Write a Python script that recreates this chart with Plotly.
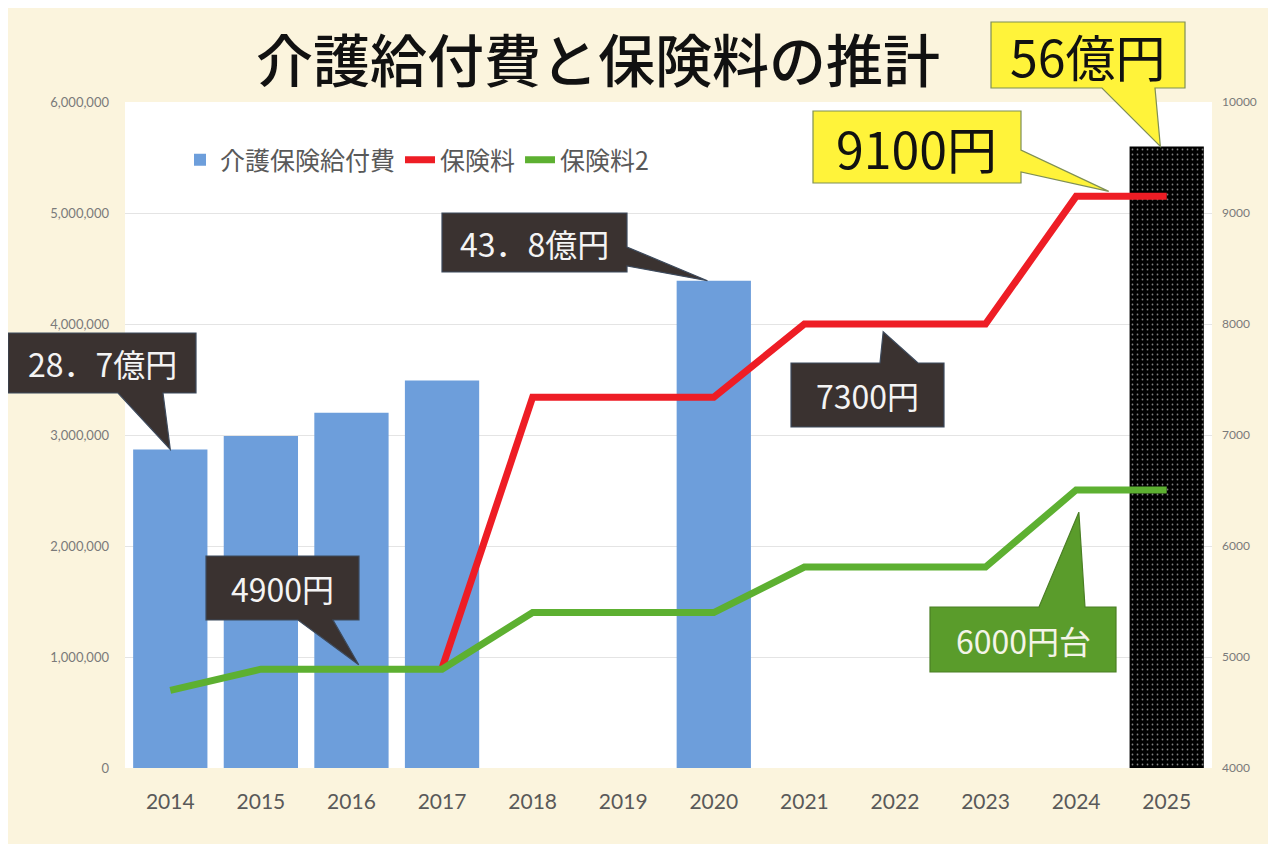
import plotly.graph_objects as go

# ---------------- data ----------------
years = [2014, 2015, 2016, 2017, 2018, 2019, 2020, 2021, 2022, 2023, 2024, 2025]
benefit_cost = [2870000, 2990000, 3200000, 3490000, None, None, 4390000, None, None, None, None, 5600000]
premium = [None, None, None, 4900, 7340, 7340, 7340, 8000, 8000, 8000, 9150, 9150]
premium2 = [4700, 4890, 4890, 4890, 5400, 5400, 5400, 5810, 5810, 5810, 6505, 6505]

title_text = "介護給付費と保険料の推計"
series_names = ["介護保険給付費", "保険料", "保険料2"]

# ---------------- styling ----------------
BG = "#FBF4DD"
BAR_BLUE = "#6D9EDB"
RED = "#EE1D25"
GREEN = "#5DB031"
DARK = "#3A3230"
YELLOW = "#FFF33A"
CJK = "Noto Sans CJK JP"

X_RANGE = [2013.5, 2025.5]
Y_RANGE = [0, 6000000]
Y2_RANGE = [4000, 10000]

OFF = 8  # page body margin
W, H = 1260, 836
ML, MT = 117, 94
PW, PH = 1087, 666
MR = W - ML - PW
MB = H - MT - PH


def px_x(px):
    return (px - OFF - ML) / PW


def px_y(py):
    return (MT + PH - (py - OFF)) / PH


def dx(year):
    return (year - X_RANGE[0]) / (X_RANGE[1] - X_RANGE[0])


def dy(v):
    return (v - Y_RANGE[0]) / (Y_RANGE[1] - Y_RANGE[0])


def dy2(v):
    return (v - Y2_RANGE[0]) / (Y2_RANGE[1] - Y2_RANGE[0])


bar_colors = ["black" if y == 2025 else BAR_BLUE for y in years]
bar_patterns = ["." if y == 2025 else "" for y in years]

fig = go.Figure()
fig.add_trace(go.Bar(
    x=years, y=benefit_cost, name=series_names[0],
    marker=dict(color=bar_colors, line=dict(width=0),
                pattern=dict(shape=bar_patterns, fgcolor="#8a8a8a", bgcolor="black",
                             size=5, solidity=0.1)),
    hoverinfo="skip",
))
fig.add_trace(go.Scatter(
    x=years, y=premium, name=series_names[1], yaxis="y2", mode="lines",
    line=dict(color=RED, width=7), connectgaps=False,
))
fig.add_trace(go.Scatter(
    x=years, y=premium2, name=series_names[2], yaxis="y2", mode="lines",
    line=dict(color=GREEN, width=7),
))

# ---------------- callouts ----------------
callouts = [
    # text, box (page px x0,y0,x1,y1), tail edge, tail base (px), tip (paper), fill, text color, size, border
    ("28．7億円", (8, 333, 196, 393), "bottom", (118, 163),
     (dx(years[0]), dy(benefit_cost[0])), DARK, "#F4F4F4", 32, "#3D4A5C"),
    ("43．8億円", (442, 213, 627, 272), "right", (247, 266),
     (dx(years[6] - 0.07), dy(benefit_cost[6])), DARK, "#F4F4F4", 32, "#3D4A5C"),
    ("4900円", (206, 556, 359, 620), "bottom", (298, 333),
     (dx(years[2] + 0.08), dy2(premium2[2] + 40)), DARK, "#F4F4F4", 32, "#3D4A5C"),
    ("7300円", (791, 363, 944, 427), "top", (880, 918),
     (dx(years[7] + 0.87), dy2(premium[7] - 70)), DARK, "#F4F4F4", 32, "#3D4A5C"),
    ("6000円台", (930, 607, 1116, 672), "top", (1039, 1085),
     (dx(years[10] + 0.03), dy2(premium2[10] - 200)), "#5A9C2B", "#F4F4E8", 32, "#4A7F24"),
    ("9100円", (813, 111, 1021, 183), "right", (150, 172),
     (dx(years[10] + 0.36), dy2(premium[10] + 45)), YELLOW, "#111111", 50, "#7F8F55"),
    ("56億円", (991, 22, 1185, 88), "bottom", (1102, 1155),
     (dx(years[11] - 0.07), dy(benefit_cost[11])), YELLOW, "#111111", 50, "#7F8F55"),
]

shapes = []
annotations = []
for text, (bx0, by0, bx1, by1), edge, (b1, b2), (tx, ty), fill, tcol, tsize, border in callouts:
    x0, x1 = px_x(bx0), px_x(bx1)
    yt, yb = px_y(by0), px_y(by1)
    if edge == "bottom":
        pts = [(x0, yt), (x1, yt), (x1, yb), (px_x(b2), yb), (tx, ty), (px_x(b1), yb), (x0, yb)]
    elif edge == "top":
        pts = [(x0, yt), (px_x(b1), yt), (tx, ty), (px_x(b2), yt), (x1, yt), (x1, yb), (x0, yb)]
    else:  # right
        pts = [(x0, yt), (x1, yt), (x1, px_y(b1)), (tx, ty), (x1, px_y(b2)), (x1, yb), (x0, yb)]
    path = "M " + " L ".join(f"{a:.5f},{b:.5f}" for a, b in pts) + " Z"
    shapes.append(dict(type="path", path=path, xref="paper", yref="paper",
                       fillcolor=fill, line=dict(color=border, width=1.2), layer="above"))
    annotations.append(dict(text=text, x=(x0 + x1) / 2, y=(yt + yb) / 2, xref="paper", yref="paper",
                            xanchor="center", yanchor="middle", showarrow=False,
                            font=dict(family=CJK, size=tsize, color=tcol)))

fig.update_layout(
    width=W, height=H,
    margin=dict(l=ML, r=MR, t=MT, b=MB),
    paper_bgcolor=BG, plot_bgcolor="white",
    title=dict(text=title_text, x=(598 - OFF) / W, xanchor="center", y=1 - (62 - OFF) / H,
               yanchor="middle", font=dict(family=CJK, size=57, color="#111111", weight=500)),
    bargap=0.18,
    showlegend=True,
    legend=dict(orientation="h", x=px_x(180), y=px_y(160), xanchor="left", yanchor="middle",
                bgcolor="rgba(0,0,0,0)", font=dict(family=CJK, size=25, color="#595959"),
                itemwidth=30, traceorder="normal", tracegroupgap=0),
    xaxis=dict(range=X_RANGE, tickmode="array", tickvals=years, ticktext=[str(y) for y in years],
               showgrid=False, zeroline=False, showline=False,
               ticks="outside", ticklen=15, tickcolor="rgba(0,0,0,0)",
               tickfont=dict(family="Lato", size=21, color="#595959")),
    yaxis=dict(range=Y_RANGE, dtick=1000000, tickformat=",", showgrid=True, gridcolor="#E4E4E4",
               gridwidth=1, zeroline=False, showline=False,
               tickfont=dict(family="Lato", size=13, color="#7A7A7A"), ticklabelstandoff=15),
    yaxis2=dict(range=Y2_RANGE, dtick=1000, overlaying="y", side="right", showgrid=False,
                zeroline=False, showline=False, tickformat="d",
                tickfont=dict(family="Lato", size=12, color="#7A7A7A"), ticklabelstandoff=9),
    shapes=shapes,
    annotations=annotations,
)

fig.write_html("out.html")
